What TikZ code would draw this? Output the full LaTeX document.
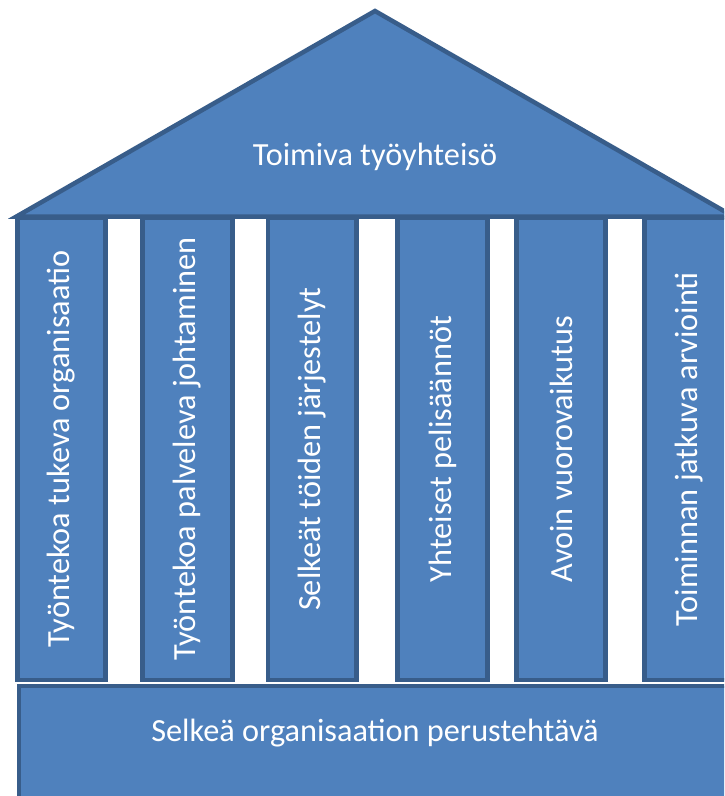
\documentclass[tikz,border=0pt]{standalone}
\usepackage{fontspec}
\setmainfont{Carlito}
\usepackage{tikz}
\usetikzlibrary{positioning}
\definecolor{osafill}{RGB}{79, 129, 189}
\definecolor{osaline}{RGB}{56, 93, 138}

\begin{document}
\begin{tikzpicture}[
    x=1pt, y=-1pt,
    osa/.style={draw=osaline, fill=osafill, line width=4.5pt},
    pillar/.style={osa, rotate=90, minimum width=462pt, inner sep=0pt, text=white, font=\fontsize{32.3}{38}\selectfont},
    label/.style={text=white, font=\fontsize{32.3}{38}\selectfont}
]
    \useasboundingbox (0,0) rectangle (724,796);
    \clip (0,0) rectangle (724,796);

    % Pillars
    \node[pillar, minimum height=88pt] (tuki) at (61.5,449) {Työntekoa tukeva organisaatio};
    \node[pillar, minimum height=90pt] (johto) at (187.5,449) {Työntekoa palveleva johtaminen};
    \node[pillar, minimum height=88.5pt] (jarjestely) at (312,449) {Selkeät töiden järjestelyt};
    \node[pillar, minimum height=90pt] (pelisaanto) at (442.5,449) {Yhteiset pelisäännöt};
    \node[pillar, minimum height=89pt] (vuoro) at (561,449) {Avoin vuorovaikutus};
    \node[pillar, minimum height=89.5pt] (arvio) at (689,449) {Toiminnan jatkuva arviointi};

    % Roof
    \draw[osa, line join=miter] (16.5,216.5) -- (375,11) -- (733.5,216.5) -- cycle;
    \node[label] (katto) at (375,157) {Toimiva työyhteisö};

    % Foundation
    \node[osa, anchor=north west, minimum width=740pt, minimum height=130pt] (perusta) at (16.5,683.5) {};
    \node[label] (perustext) at (375,733) {Selkeä organisaation perustehtävä};
\end{tikzpicture}
\end{document}
